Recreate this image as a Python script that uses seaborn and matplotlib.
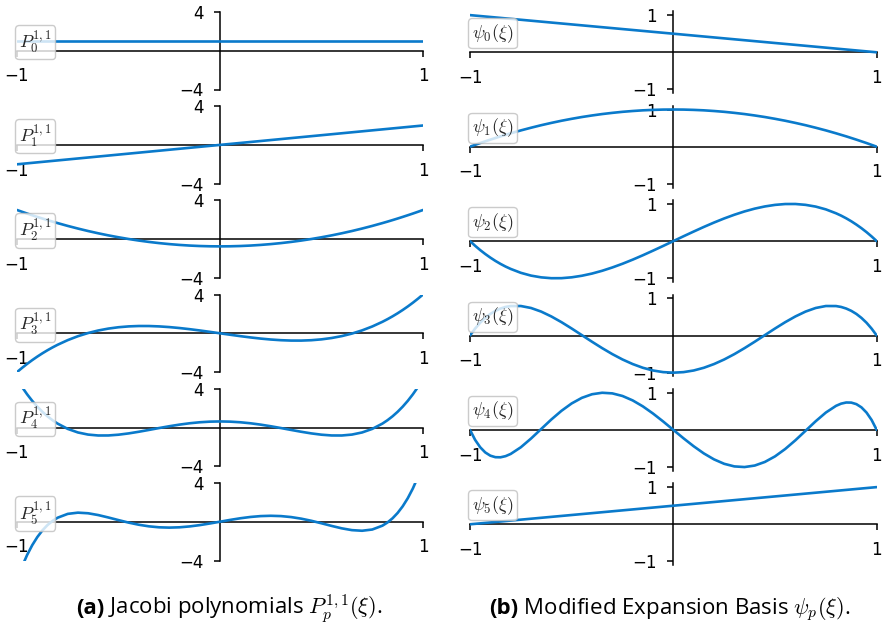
import numpy as np
import pandas as pd
import matplotlib
matplotlib.use("Agg")
import matplotlib.pyplot as plt
import seaborn as sns

# ---------------- data ----------------
XI = [-1.0, -0.975, -0.95, -0.925, -0.9, -0.875, -0.85, -0.825, -0.8,
      -0.75, -0.7, -0.65, -0.6, -0.55, -0.5, -0.45, -0.4, -0.35, -0.3,
      -0.25, -0.2, -0.15, -0.1, -0.05, 0.0, 0.05, 0.1, 0.15, 0.2, 0.25,
      0.3, 0.35, 0.4, 0.45, 0.5, 0.55, 0.6, 0.65, 0.7, 0.75,
      0.8, 0.825, 0.85, 0.875, 0.9, 0.925, 0.95, 0.975, 1.0]

P0 = [1.0, 1.0, 1.0, 1.0, 1.0, 1.0, 1.0, 1.0, 1.0, 1.0, 1.0, 1.0, 1.0, 1.0,
      1.0, 1.0, 1.0, 1.0, 1.0, 1.0, 1.0, 1.0, 1.0, 1.0, 1.0, 1.0, 1.0, 1.0,
      1.0, 1.0, 1.0, 1.0, 1.0, 1.0, 1.0, 1.0, 1.0, 1.0, 1.0, 1.0, 1.0, 1.0,
      1.0, 1.0, 1.0, 1.0, 1.0, 1.0, 1.0]
P1 = [-2.0, -1.95, -1.9, -1.85, -1.8, -1.75, -1.7, -1.65, -1.6, -1.5, -1.4,
      -1.3, -1.2, -1.1, -1.0, -0.9, -0.8, -0.7, -0.6, -0.5, -0.4, -0.3, -0.2,
      -0.1, 0.0, 0.1, 0.2, 0.3, 0.4, 0.5, 0.6, 0.7, 0.8, 0.9, 1.0, 1.1, 1.2,
      1.3, 1.4, 1.5, 1.6, 1.65, 1.7, 1.75, 1.8, 1.85, 1.9, 1.95, 2.0]
P2 = [3.0, 2.815, 2.634, 2.459, 2.288, 2.121, 1.959, 1.802, 1.65, 1.359,
      1.088, 0.834, 0.6, 0.384, 0.188, 0.009, -0.15, -0.291, -0.413, -0.516,
      -0.6, -0.666, -0.713, -0.741, -0.75, -0.741, -0.713, -0.666, -0.6,
      -0.516, -0.413, -0.291, -0.15, 0.009, 0.188, 0.384, 0.6, 0.834, 1.088,
      1.359, 1.65, 1.802, 1.959, 2.121, 2.288, 2.459, 2.634, 2.815, 3.0]
P3 = [-4.0, -3.563, -3.152, -2.765, -2.403, -2.064, -1.749, -1.456, -1.184,
      -0.703, -0.301, 0.028, 0.288, 0.485, 0.625, 0.712, 0.752, 0.75, 0.711,
      0.641, 0.544, 0.426, 0.293, 0.149, 0.0, -0.149, -0.293, -0.426, -0.544,
      -0.641, -0.711, -0.75, -0.752, -0.712, -0.625, -0.485, -0.288, -0.028,
      0.301, 0.703, 1.184, 1.456, 1.749, 2.064, 2.403, 2.765, 3.152, 3.563,
      4.0]
P4 = [5.0, 4.168, 3.419, 2.747, 2.149, 1.619, 1.155, 0.75, 0.401, -0.144,
      -0.511, -0.729, -0.824, -0.821, -0.742, -0.609, -0.439, -0.25, -0.056,
      0.129, 0.296, 0.435, 0.539, 0.603, 0.625, 0.603, 0.539, 0.435, 0.296,
      0.129, -0.056, -0.25, -0.439, -0.609, -0.742, -0.821, -0.824, -0.729,
      -0.511, -0.144, 0.401, 0.75, 1.155, 1.619, 2.149, 2.747, 3.419, 4.168,
      5.0]
P5 = [-6.0, -4.609, -3.423, -2.421, -1.587, -0.902, -0.351, 0.081, 0.41,
      0.806, 0.933, 0.87, 0.685, 0.435, 0.164, -0.094, -0.313, -0.478, -0.578,
      -0.61, -0.578, -0.488, -0.353, -0.185, 0.0, 0.185, 0.353, 0.488, 0.578,
      0.61, 0.578, 0.478, 0.313, 0.094, -0.164, -0.435, -0.685, -0.87, -0.933,
      -0.806, -0.41, -0.081, 0.351, 0.902, 1.587, 2.421, 3.423, 4.609, 6.0]

PSI0 = [1.0, 0.9875, 0.975, 0.9625, 0.95, 0.9375, 0.925, 0.9125, 0.9, 0.875,
        0.85, 0.825, 0.8, 0.775, 0.75, 0.725, 0.7, 0.675, 0.65, 0.625, 0.6,
        0.575, 0.55, 0.525, 0.5, 0.475, 0.45, 0.425, 0.4, 0.375, 0.35, 0.325,
        0.3, 0.275, 0.25, 0.225, 0.2, 0.175, 0.15, 0.125, 0.1, 0.0875, 0.075,
        0.0625, 0.05, 0.0375, 0.025, 0.0125, 0.0]
PSI1 = [0.0, 0.049, 0.098, 0.144, 0.19, 0.234, 0.278, 0.319, 0.36, 0.438,
        0.51, 0.578, 0.64, 0.698, 0.75, 0.798, 0.84, 0.878, 0.91, 0.938, 0.96,
        0.978, 0.99, 0.998, 1.0, 0.998, 0.99, 0.978, 0.96, 0.938, 0.91, 0.878,
        0.84, 0.798, 0.75, 0.698, 0.64, 0.578, 0.51, 0.438, 0.36, 0.319, 0.278,
        0.234, 0.19, 0.144, 0.098, 0.049, 0.0]
PSI2 = [0.0, -0.125, -0.241, -0.347, -0.444, -0.533, -0.613, -0.685, -0.748,
        -0.853, -0.928, -0.975, -0.998, -0.997, -0.974, -0.932, -0.873,
        -0.798, -0.709, -0.609, -0.499, -0.381, -0.257, -0.13, 0.0, 0.13,
        0.257, 0.381, 0.499, 0.609, 0.709, 0.798, 0.873, 0.932, 0.974, 0.997,
        0.998, 0.975, 0.928, 0.853, 0.748, 0.685, 0.613, 0.533, 0.444, 0.347,
        0.241, 0.125, 0.0]
PSI3 = [0.0, 0.185, 0.343, 0.473, 0.58, 0.663, 0.725, 0.768, 0.792, 0.793,
        0.74, 0.643, 0.512, 0.358, 0.188, 0.01, -0.168, -0.34, -0.501, -0.645,
        -0.768, -0.868, -0.941, -0.985, -1.0, -0.985, -0.941, -0.868, -0.768,
        -0.645, -0.501, -0.34, -0.168, 0.01, 0.188, 0.358, 0.512, 0.643, 0.74,
        0.793, 0.792, 0.768, 0.725, 0.663, 0.58, 0.473, 0.343, 0.185, 0.0]
PSI4 = [0.0, -0.267, -0.466, -0.606, -0.693, -0.734, -0.737, -0.706, -0.647,
        -0.467, -0.233, 0.024, 0.28, 0.514, 0.712, 0.862, 0.959, 0.999, 0.982,
        0.912, 0.793, 0.633, 0.44, 0.226, 0.0, -0.226, -0.44, -0.633, -0.793,
        -0.912, -0.982, -0.999, -0.959, -0.862, -0.712, -0.514, -0.28, -0.024,
        0.233, 0.467, 0.647, 0.706, 0.737, 0.734, 0.693, 0.606, 0.466, 0.267,
        0.0]
PSI5 = [0.0, 0.0125, 0.025, 0.0375, 0.05, 0.0625, 0.075, 0.0875, 0.1, 0.125,
        0.15, 0.175, 0.2, 0.225, 0.25, 0.275, 0.3, 0.325, 0.35, 0.375, 0.4,
        0.425, 0.45, 0.475, 0.5, 0.525, 0.55, 0.575, 0.6, 0.625, 0.65, 0.675,
        0.7, 0.725, 0.75, 0.775, 0.8, 0.825, 0.85, 0.875, 0.9, 0.9125, 0.925,
        0.9375, 0.95, 0.9625, 0.975, 0.9875, 1.0]

JACOBI = [P0, P1, P2, P3, P4, P5]
BASIS = [PSI0, PSI1, PSI2, PSI3, PSI4, PSI5]
JACOBI_LABELS = [r"$P_{0}^{1,1}$", r"$P_{1}^{1,1}$", r"$P_{2}^{1,1}$",
                 r"$P_{3}^{1,1}$", r"$P_{4}^{1,1}$", r"$P_{5}^{1,1}$"]
BASIS_LABELS = [r"$\psi_{0}(\xi)$", r"$\psi_{1}(\xi)$", r"$\psi_{2}(\xi)$",
                r"$\psi_{3}(\xi)$", r"$\psi_{4}(\xi)$", r"$\psi_{5}(\xi)$"]
X_TICKS = [-1, 1]
JACOBI_YTICKS = [-4, 4]
BASIS_YTICKS = [-1, 1]
CAPTION_A = ("(a)", r" Jacobi polynomials $P_p^{1,1}(\xi)$.")
CAPTION_B = ("(b)", r" Modified Expansion Basis $\psi_p(\xi)$.")

rows = []
for p in range(6):
    for x, v in zip(XI, JACOBI[p]):
        rows.append(("jacobi", p, x, v))
    for x, v in zip(XI, BASIS[p]):
        rows.append(("basis", p, x, v))
df = pd.DataFrame(rows, columns=["family", "p", "xi", "value"])

# ---------------- style ----------------
sns.set_theme(style="ticks")
plt.rcParams["font.family"] = ["DejaVu Sans"]
plt.rcParams["mathtext.fontset"] = "cm"

LINE_COLOR = "#0a7acb"
W, H = 884, 633
fig = plt.figure(figsize=(W / 100, H / 100), dpi=100)


def style_axis(ax, yticks, ylim):
    ax.set_xlim(-1, 1)
    ax.set_ylim(*ylim)
    ax.spines["left"].set_position(("data", 0))
    ax.spines["bottom"].set_position(("data", 0))
    ax.spines["top"].set_visible(False)
    ax.spines["right"].set_visible(False)
    for s in ("left", "bottom"):
        ax.spines[s].set_color("black")
        ax.spines[s].set_linewidth(1.1)
    ax.set_xticks(X_TICKS)
    ax.set_yticks(yticks)
    ax.tick_params(axis="both", direction="out", length=4.5, width=1.1,
                   color="black", labelsize=12, pad=7.5, labelcolor="black")
    ax.set_xlabel("")
    ax.set_ylabel("")
    ax.patch.set_alpha(0)


columns = [
    ("jacobi", JACOBI_LABELS, JACOBI_YTICKS, (-4, 4), 17, 406.0, 50.7, 94.2, 77.6, (-0.005, 1 - 13 / 77.6)),
    ("basis", BASIS_LABELS, BASIS_YTICKS, (-1.1, 1.1), 470, 406.7, 52.3, 94.4, 81.8, (-0.004, 1 - 7 / 81.8)),
]

for fam, labels, yticks, ylim, x0, wpx, c0, pitch, hpx, anchor in columns:
    for p in range(6):
        c = c0 + pitch * p
        bottom = (H - (c + hpx / 2)) / H
        ax = fig.add_axes([x0 / W, bottom, wpx / W, hpx / H])
        sub = df[(df.family == fam) & (df.p == p)]
        sns.lineplot(data=sub, x="xi", y="value", ax=ax, color=LINE_COLOR,
                     linewidth=1.9, legend=False, zorder=3)
        style_axis(ax, yticks, ylim)
        line = ax.get_lines()[0]
        ax.legend([line], [labels[p]], loc="upper left", bbox_to_anchor=anchor,
                  borderaxespad=0, handlelength=0, handletextpad=0,
                  fontsize=13, frameon=True, framealpha=0.8,
                  edgecolor="0.75", fancybox=True, borderpad=0.2)

# ---------------- captions ----------------
fig.canvas.draw()
renderer = fig.canvas.get_renderer()
for (bold, rest), xstart in ((CAPTION_A, 76), (CAPTION_B, 489)):
    t1 = fig.text(xstart / W, (H - 614) / H, bold, fontsize=16,
                  fontweight="bold", family=["Open Sans", "DejaVu Sans"],
                  ha="left", va="baseline", color="black")
    bb = t1.get_window_extent(renderer=renderer)
    fig.text(bb.x1 / W, (H - 614) / H, rest, fontsize=16,
             family=["Open Sans", "DejaVu Sans"], ha="left", va="baseline",
             color="black")

fig.savefig("out.png", dpi=100)
